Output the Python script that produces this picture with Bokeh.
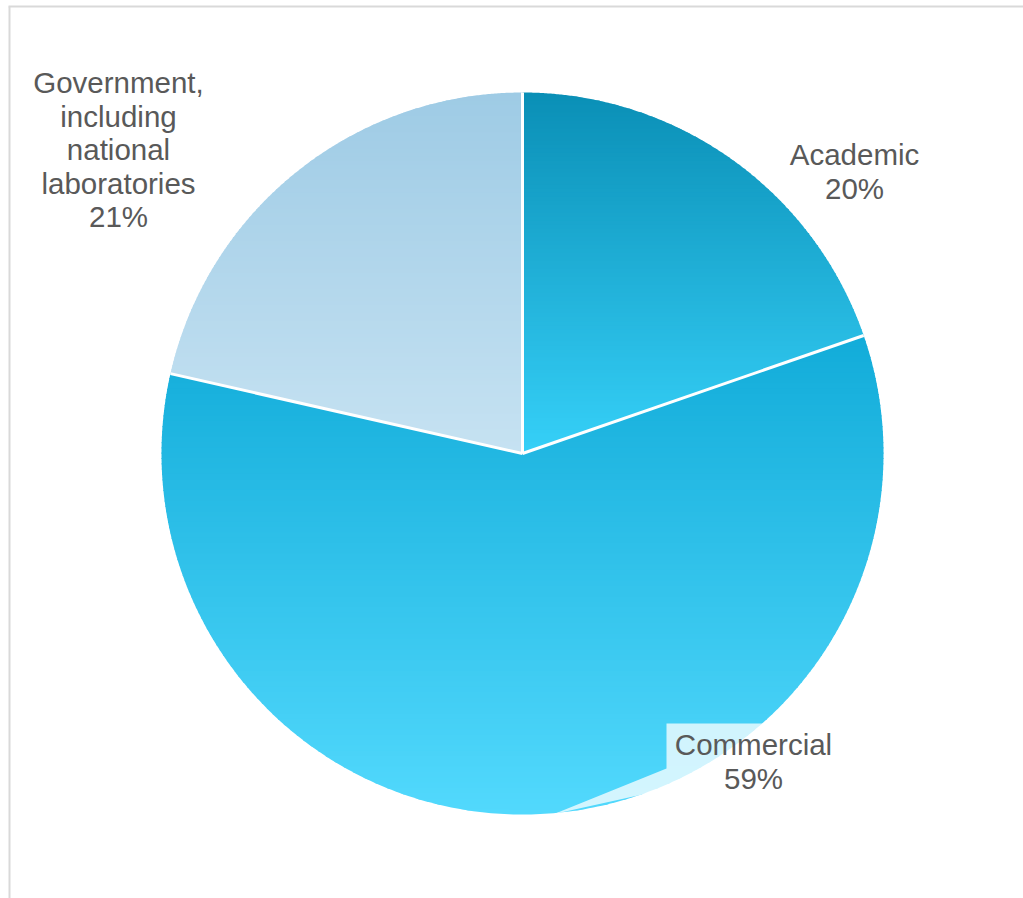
import numpy as np
from bokeh.plotting import figure
from bokeh.models import Range1d
from bokeh.core.properties import value
from bokeh.embed import file_html
from bokeh.resources import INLINE

# ---- data ----
categories = ["Academic", "Commercial", "Government, including national laboratories"]
label_lines = [["Academic"], ["Commercial"], ["Government,", "including", "national", "laboratories"]]
shares = [19.7, 58.85, 21.45]
top_colors = ["#0a8fb6", "#12acd9", "#9ecbe5"]
bottom_colors = ["#36d0f8", "#52d9fd", "#c6e2f2"]

# ---- layout ----
W, H = 1023, 898
CX, CY, R = 522, 453, 361
label_x = [854, 753, 118]
label_first_baseline = [154, 744, 82]
LINE_STEP = 33.5
FONT = "Liberation Sans"
FS = 29.5

p = figure(width=W, height=H, output_backend="svg", toolbar_location=None,
           x_range=Range1d(0, W), y_range=Range1d(H, 0), min_border=0)
p.axis.visible = False
p.grid.visible = False
p.outline_line_color = None
p.background_fill_color = "white"
p.border_fill_color = "white"


def hex2rgb(h):
    h = h.lstrip("#")
    return np.array([int(h[i:i + 2], 16) for i in (0, 2, 4)], dtype=float)


def rgb2hex(c):
    c = np.clip(np.round(c), 0, 255).astype(int)
    return "#%02x%02x%02x" % tuple(c)


def clip_half(poly, yc, keep_above):
    out = []
    n = len(poly)
    for i in range(n):
        a = poly[i]
        b = poly[(i + 1) % n]
        ina = a[1] >= yc if keep_above else a[1] <= yc
        inb = b[1] >= yc if keep_above else b[1] <= yc
        if ina:
            out.append(a)
        if ina != inb:
            t = (yc - a[1]) / (b[1] - a[1])
            out.append((a[0] + t * (b[0] - a[0]), yc))
    return out


def to_px(ang_deg, r=R):
    t = np.radians(ang_deg)
    return CX + r * np.cos(t), CY - r * np.sin(t)


total = sum(shares)
cum = 0.0
bounds = []
for i, v in enumerate(shares):
    a0 = 90 - 360 * cum / total
    a1 = 90 - 360 * (cum + v) / total
    cum += v
    bounds.append(a0)
    angs = np.linspace(a0, a1, 300)
    poly = [(CX, CY)] + [to_px(a) for a in angs]
    ys = [pt[1] for pt in poly]
    ymin, ymax = min(ys), max(ys)
    nb = 90
    edges = np.linspace(ymin, ymax, nb + 1)
    ctop, cbot = hex2rgb(top_colors[i]), hex2rgb(bottom_colors[i])
    bxs, bys, cols = [], [], []
    for k in range(nb):
        pc = clip_half(poly, edges[k], True)
        if len(pc) < 3:
            continue
        lo = edges[k + 1] + (1.2 if k < nb - 1 else 0)
        pc = clip_half(pc, lo, False)
        if len(pc) < 3:
            continue
        f = (k + 0.5) / nb
        cols.append(rgb2hex(ctop + (cbot - ctop) * f))
        bxs.append([q[0] for q in pc])
        bys.append([q[1] for q in pc])
    p.patches(bxs, bys, fill_color=cols, line_color=None)

# white separators between slices
sx1, sy1 = [], []
for a in bounds:
    x, y = to_px(a)
    sx1.append(x)
    sy1.append(y)
p.segment(x0=[CX] * len(bounds), y0=[CY] * len(bounds), x1=sx1, y1=sy1,
          line_color="white", line_width=3)

# callout box for Commercial label (semi-transparent white)
lx, ly = label_x[1], label_first_baseline[1]
tipx, tipy = to_px(-85, R + 1)
bx0, bx1 = lx - 87, lx + 60
by0, by1 = ly - 21, ly + 46
p.patch([bx0, bx1, bx1, bx0 - 6, tipx, bx0],
        [by0, by0, by1, by1, tipy, by1 - 22],
        fill_color="white", fill_alpha=0.75, line_color=None)

# labels (one glyph per line)
tx, ty, tt = [], [], []
for lines, v, x0, y0 in zip(label_lines, shares, label_x, label_first_baseline):
    for j, s in enumerate(lines + ["%d%%" % round(v)]):
        tx.append(x0)
        ty.append(y0 + j * LINE_STEP)
        tt.append(s)
p.text(x=tx, y=ty, text=tt,
       text_font=value(FONT), text_font_size="%spx" % FS, text_color="#595959",
       text_align="center", text_baseline="alphabetic")

# frame lines
p.segment(x0=[9, 8], y0=[6, 6], x1=[9, W], y1=[H, 6], line_color="#d9d9d9", line_width=2)

open("out.html", "w").write(file_html(p, INLINE))
